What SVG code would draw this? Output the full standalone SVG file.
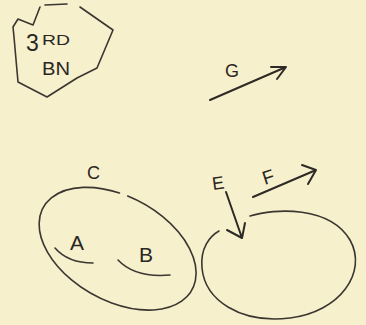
<svg xmlns="http://www.w3.org/2000/svg" width="366" height="325" viewBox="0 0 366 325">
<style>
.ln{fill:none;stroke:#3b3630;stroke-width:1.6;stroke-linecap:round;stroke-linejoin:round}
.ar{fill:none;stroke:#2e2a25;stroke-width:2;stroke-linecap:round;stroke-linejoin:round}
.t{font-family:"Liberation Sans",Arial,sans-serif;fill:#2a2622}
</style>
<rect width="366" height="325" fill="#f6f0cd"/>
<g id="bn">
<path class="ln" d="M40,7 L33,25 L18,19 L13,27 L14,37 L18,82 L47,97 L77,78 L97,68 L113,30 L80,7"/>
<path class="ln" d="M45,5 L67,4"/>
<text class="t" x="26" y="51" style="font-size:23px">3</text>
<text class="t" x="42" y="45" style="font-size:14px" textLength="28" lengthAdjust="spacingAndGlyphs">RD</text>
<text class="t" x="42" y="75" style="font-size:19px" textLength="28" lengthAdjust="spacingAndGlyphs">BN</text>
</g>
<g id="c">
<path class="ln" d="M127.7,196 A85,52 29 1 1 119.5,193"/>
<text class="t" x="87" y="179" style="font-size:18px">C</text>
</g>
<g id="a">
<path class="ln" d="M55,248 Q68,263 93,263"/>
<text class="t" x="70" y="250" style="font-size:21px">A</text>
</g>
<g id="b">
<path class="ln" d="M118,260 Q135,278 170,275"/>
<text class="t" x="139" y="262" style="font-size:21px">B</text>
</g>
<g id="d">
<path class="ln" d="M250,216 C275,208 330,206 350,240 C368,272 340,312 290,318 C240,324 205,300 202,268 C200,248 210,236 219,231"/>
</g>
<g id="g">
<text class="t" x="225" y="77" style="font-size:18px">G</text>
</g>
<g id="e">
<text class="t" x="212" y="189" style="font-size:18px" transform="rotate(-8 220 182)">E</text>
</g>
<g id="f">
<text class="t" x="262" y="183" style="font-size:19px" transform="rotate(-18 270 175)">F</text>
</g>
<g id="connectors">
<path class="ar" d="M210,100 L286,67 M271,67 L286,67 L277,79"/>
<path class="ar" d="M226,192 L242,238 M227,230 L242,238 L245,223"/>
<path class="ar" d="M253,197 L316,170 M302,165 L316,170 L308,184"/>
</g>
</svg>
